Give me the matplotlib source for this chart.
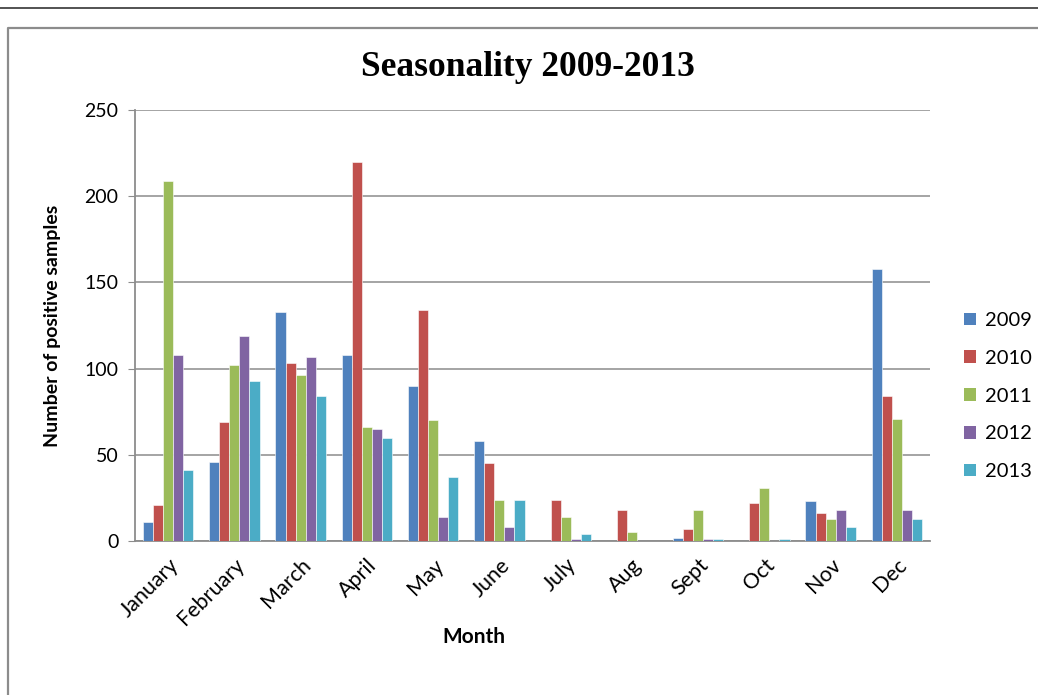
import matplotlib
matplotlib.use("Agg")
import matplotlib.pyplot as plt
import numpy as np
from matplotlib.patches import Patch
from matplotlib.lines import Line2D

months = ["January", "February", "March", "April", "May", "June",
          "July", "Aug", "Sept", "Oct", "Nov", "Dec"]
years = ["2009", "2010", "2011", "2012", "2013"]
s2009 = [11, 46, 133, 108, 90, 58, 0, 0, 2, 0, 23, 158]
s2010 = [21, 69, 103, 220, 134, 45, 24, 18, 7, 22, 16, 84]
s2011 = [209, 102, 96, 66, 70, 24, 14, 5, 18, 31, 13, 71]
s2012 = [108, 119, 107, 65, 14, 8, 1, 0, 1, 0, 18, 18]
s2013 = [41, 93, 84, 60, 37, 24, 4, 0, 1, 1, 8, 13]
series = [s2009, s2010, s2011, s2012, s2013]
colors = ["#4F81BD", "#C0504D", "#9BBB59", "#8064A2", "#4BACC6"]

body_font = ["Lato", "DejaVu Sans"]

fig = plt.figure(figsize=(10.38, 6.95), dpi=100)
ax = fig.add_axes([135 / 1038, 1 - 541 / 695, 795 / 1038, 431 / 695])

x = np.arange(len(months))
width = 0.152
for i, (vals, c) in enumerate(zip(series, colors)):
    offs = (i - 2) * width
    v = np.array(vals, dtype=float)
    mask = v > 0
    ax.bar(x[mask] + offs, v[mask], width=width, color=c,
           edgecolor="white", linewidth=0.4, zorder=3)

ax.set_xlim(-0.5, len(months) - 0.5)
ax.set_ylim(0, 250)
ax.set_yticks(np.arange(0, 251, 50))
ax.yaxis.grid(True, color="#8c8c8c", linewidth=1.1, zorder=0)
ax.set_axisbelow(True)
for side in ("top", "right"):
    ax.spines[side].set_visible(False)
for side in ("left", "bottom"):
    ax.spines[side].set_color("#8c8c8c")
    ax.spines[side].set_linewidth(1.3)
ax.tick_params(axis="y", length=5, color="#8c8c8c", labelsize=14, pad=7)
ax.tick_params(axis="x", length=0, labelsize=15.5, pad=10)
ax.set_xticks(x)
ax.set_xticklabels(months, rotation=45, ha="right", rotation_mode="anchor",
                   family=body_font)
for lab in ax.get_yticklabels():
    lab.set_family(body_font)

ax.set_ylabel("Number of positive samples", fontsize=14, fontweight="bold",
              family=body_font, labelpad=17)
fig.text(474 / 1038, 1 - 637 / 695, "Month", ha="center", va="center",
         fontsize=15, fontweight="bold", family=body_font)

fig.text(528 / 1038, 1 - 67 / 695, "Seasonality 2009-2013", ha="center", va="center",
         fontsize=25.5, fontweight="bold", family=["Liberation Serif", "DejaVu Serif"])

handles = [Patch(facecolor=c, edgecolor="none") for c in colors]
leg = fig.legend(handles, years, loc="upper left",
                 bbox_to_anchor=(946 / 1038, 1 - 294 / 695),
                 frameon=False, handlelength=0.6, handleheight=0.6,
                 handletextpad=0.45, labelspacing=1.03,
                 prop={"family": body_font, "size": 14.5})

# outer frame lines
fig.add_artist(Line2D([0, 1], [1 - 8 / 695, 1 - 8 / 695], transform=fig.transFigure,
                      color="#444444", linewidth=1.3))
fig.add_artist(Line2D([8 / 1038, 8 / 1038, 1], [0, 1 - 28 / 695, 1 - 28 / 695],
                      transform=fig.transFigure, color="#8c8c8c", linewidth=1.6))

fig.savefig("out.png", dpi=100)
